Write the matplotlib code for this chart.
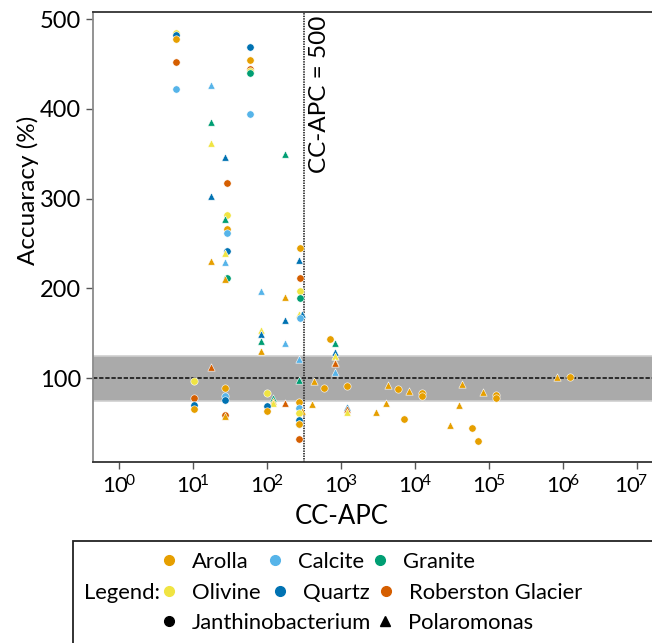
import math
import matplotlib
matplotlib.use("Agg")
import matplotlib.pyplot as plt
from matplotlib.lines import Line2D
from matplotlib.patches import Rectangle
from matplotlib.ticker import FuncFormatter, NullLocator
from matplotlib.transforms import ScaledTranslation

plt.rcParams['font.family'] = ['Lato', 'DejaVu Sans']
plt.rcParams['mathtext.fontset'] = 'custom'
plt.rcParams['mathtext.rm'] = 'Lato'
plt.rcParams['mathtext.it'] = 'Lato:italic'
plt.rcParams['mathtext.bf'] = 'Lato:bold'

# ---------------- data ----------------
substrates = ["Arolla", "Calcite", "Granite", "Olivine", "Quartz", "Roberston Glacier"]
substrate_colors = ["#E69F00", "#56B4E9", "#009E73", "#F0E442", "#0072B2", "#D55E00"]
organisms = ["Janthinobacterium", "Polaromonas"]
organism_markers = ["o", "^"]
x_tick_exponents = [0, 1, 2, 3, 4, 5, 6, 7]
y_ticks = [100, 200, 300, 400, 500]

cc_apc = [5.85, 5.85, 5.85, 5.85, 5.85, 17.6, 58, 58, 58, 58, 58, 58, 17.6, 17.6, 26.7, 176,
          28.4, 17.6, 28.4, 26.7, 28.4, 28.4, 28.4, 26.7, 17.6, 26.7, 28.4, 26.7, 82, 176,
          176, 176, 82, 82, 82, 82, 17.6, 10.2, 27, 27, 27, 10.2, 10.2, 10.2, 27, 27,
          100, 120, 120, 120, 100, 100, 176, 279, 272, 279, 279, 279, 272, 300, 279, 272,
          272, 272, 272, 300, 272, 272, 272, 272, 272, 710, 822, 822, 822, 822, 822, 822,
          427, 583, 1217, 405, 1217, 1217, 1217, 4285, 5850, 8250, 12600, 12600, 4030, 3000,
          7120, 43000, 40000, 30000, 58700, 70700, 82600, 124000, 124000, 830000, 1260000]
accuracy = [485, 482, 478, 452, 422, 427, 469, 454, 444, 442, 440, 394, 385, 362, 346, 350,
            317, 303, 282, 277, 266.5, 262, 242, 239, 231, 230, 212, 210, 197, 191,
            165, 139, 153.5, 149, 142, 130, 112, 97, 89, 80, 75.5, 78, 70, 65.5, 59.5, 57.5,
            83.5, 78.5, 74.5, 72, 69, 63, 72, 245, 231.5, 212, 197, 189.5, 172, 171, 167.5, 121,
            97.5, 73, 66.5, 63, 61, 54, 48.5, 49.5, 32, 144, 139, 129, 125, 118, 116.5, 106.5,
            97, 89, 91.5, 71.5, 68, 65.5, 62, 93, 87.5, 86, 83.5, 80, 72, 62,
            55, 94, 70, 47.5, 45, 30, 85, 81, 78.5, 101, 101]
substrate = ["Olivine", "Quartz", "Arolla", "Roberston Glacier", "Calcite", "Calcite",
             "Quartz", "Arolla", "Roberston Glacier", "Olivine", "Granite", "Calcite",
             "Granite", "Olivine", "Quartz", "Granite", "Roberston Glacier", "Quartz",
             "Olivine", "Granite", "Arolla", "Calcite", "Quartz", "Olivine", "Arolla",
             "Calcite", "Granite", "Arolla", "Calcite", "Arolla", "Quartz", "Calcite",
             "Olivine", "Quartz", "Granite", "Arolla", "Roberston Glacier", "Olivine",
             "Arolla", "Calcite", "Quartz", "Roberston Glacier", "Quartz", "Arolla",
             "Roberston Glacier", "Arolla", "Olivine", "Granite", "Arolla", "Olivine",
             "Quartz", "Arolla", "Roberston Glacier", "Arolla", "Quartz", "Roberston Glacier",
             "Olivine", "Granite", "Olivine", "Quartz", "Calcite", "Calcite", "Granite",
             "Arolla", "Calcite", "Arolla", "Olivine", "Quartz", "Granite", "Arolla",
             "Roberston Glacier", "Arolla", "Granite", "Quartz", "Olivine", "Arolla",
             "Roberston Glacier", "Calcite", "Arolla", "Arolla", "Arolla", "Arolla",
             "Quartz", "Roberston Glacier", "Olivine", "Arolla", "Arolla", "Arolla",
             "Arolla", "Arolla", "Arolla", "Arolla", "Arolla", "Arolla", "Arolla",
             "Arolla", "Arolla", "Arolla", "Arolla", "Arolla", "Arolla", "Arolla", "Arolla"]
organism = ["J", "J", "J", "J", "J", "P", "J", "J", "J", "J", "J", "J", "P", "P", "P", "P",
            "J", "P", "J", "P", "J", "J", "J", "P", "P", "P", "J", "P", "P", "P",
            "P", "P", "P", "P", "P", "P", "P", "J", "J", "J", "J", "J", "J", "J", "J", "P",
            "J", "P", "P", "P", "J", "J", "P", "J", "P", "J", "J", "J", "P", "P", "J", "P",
            "P", "J", "J", "P", "J", "J", "J", "J", "J", "J", "P", "P", "P", "P", "P", "P",
            "P", "J", "J", "P", "P", "P", "P", "P", "J", "P", "J", "J", "P", "P",
            "J", "P", "P", "P", "J", "J", "P", "J", "J", "P", "J"]

threshold = 10 ** 2.5
ref_acc = 100
band_low, band_high = 75, 125

# ---------------- figure ----------------
W, H = 652, 643
fig = plt.figure(figsize=(W / 100, H / 100), dpi=100)
ax = fig.add_axes([93.3 / W, (H - 461.7) / H, 580.3 / W, 449.7 / H])

ax.axhspan(band_low, band_high, facecolor="#aaaaaa", edgecolor="#cfcfcf", lw=1.2, zorder=0)
ax.axhline(ref_acc, color="#222222", ls=(0, (2.4, 1.0)), lw=1.3, zorder=1)
ax.axvline(threshold, color="#333333", ls=(0, (0.8, 0.6)), lw=1.3, zorder=1)

cmap = dict(zip(substrates, substrate_colors))
mmap = {"J": "o", "P": "^"}
for x, y, s, o in zip(cc_apc, accuracy, substrate, organism):
    ax.scatter([x], [y], s=28, c=cmap[s], marker=mmap[o], edgecolors="white",
               linewidths=0.4, zorder=3)

ax.set_xscale("log")
ax.set_xlim(10 ** -0.352, 10 ** 7.5)
ax.set_ylim(7, 508)
ax.set_xticks([10.0 ** e for e in x_tick_exponents])
ax.xaxis.set_minor_locator(NullLocator())
ax.xaxis.set_major_formatter(FuncFormatter(
    lambda v, p: r"$\mathdefault{10^{\!%d}}$" % round(math.log10(v))))
ax.set_yticks(y_ticks)

ax.text(10 ** 2.565, 504, "CC-APC = 500", rotation=90, ha="left", va="top", fontsize=17.5)

for side in ["top", "right", "bottom"]:
    ax.spines[side].set_color("#333333")
ax.spines["left"].set_color("#8a8a8a")
for sp in ax.spines.values():
    sp.set_linewidth(1.3)
ax.tick_params(axis="both", length=5, width=1, color="#555555", pad=4)
ax.tick_params(axis="y", labelsize=17)
ax.tick_params(axis="x", labelsize=16)

ax.set_xlabel("CC-APC", fontsize=18.5)
ax.set_ylabel("Accuaracy (%)", fontsize=17.5)
ax.xaxis.set_label_coords(0.428, -0.093)
ax.yaxis.set_label_coords(-0.094, 0.604)

# ---------------- legend ----------------
fig.add_artist(Rectangle((73 / W, -0.2), 1.0, (H - 541) / H + 0.2, transform=fig.transFigure,
                         facecolor="white", edgecolor="#222222", lw=1.3))
fig.text(84 / W, (H - 593) / H, "Legend:", fontsize=15.8, ha="left", va="center")

entries = [
    (substrates[0], "o", cmap[substrates[0]], 169, 561.7),
    (substrates[1], "o", cmap[substrates[1]], 275, 561.7),
    (substrates[2], "o", cmap[substrates[2]], 380, 561.7),
    (substrates[3], "o", cmap[substrates[3]], 169, 593),
    (substrates[4], "o", cmap[substrates[4]], 280, 593),
    (substrates[5], "o", cmap[substrates[5]], 386, 593),
    (organisms[0], organism_markers[0], "black", 169, 623),
    (organisms[1], organism_markers[1], "black", 385, 623),
]
for label, mk, col, px, py in entries:
    h = Line2D([], [], marker=mk, ls="", color=col, markersize=7)
    fig.legend([h], [label], loc="center left", bbox_to_anchor=((px - 11) / W, (H - py) / H),
               frameon=False, fontsize=15.8, handlelength=1.0, handletextpad=0.55,
               borderpad=0, borderaxespad=0)

# the last x tick label sits slightly left of its tick in the reference
fig.canvas.draw()
last = ax.xaxis.get_major_ticks()[-1].label1
last.set_transform(last.get_transform() + ScaledTranslation(-5 / 100, 0, fig.dpi_scale_trans))

fig.savefig("out.png", dpi=100)
